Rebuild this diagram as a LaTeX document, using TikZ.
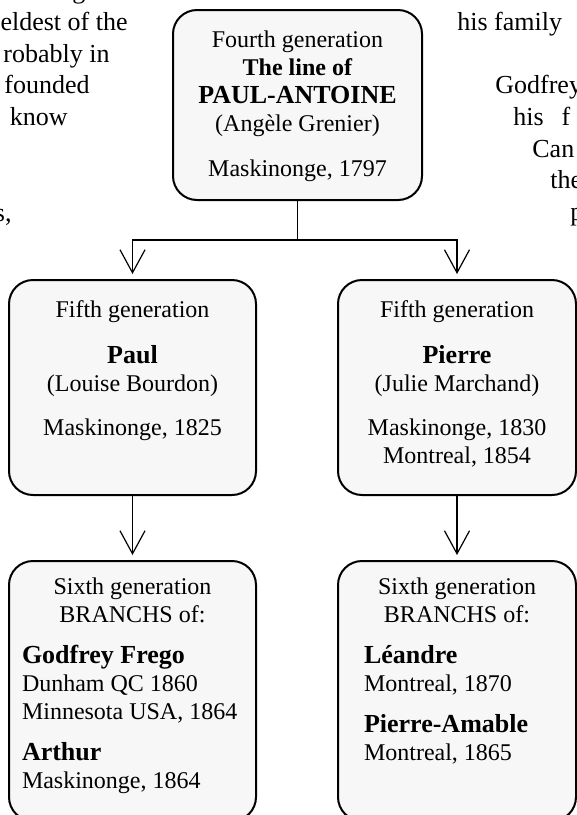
\documentclass[tikz,border=0pt]{standalone}
\usepackage{fontspec}
\setmainfont{Liberation Serif}
\usepackage{xcolor}
\usetikzlibrary{arrows.meta}
\definecolor{boxfill}{RGB}{247,247,247}
\newcommand{\heir}[1]{{\fontsize{13}{14}\selectfont\bfseries #1}}
\newcommand{\genbox}[3]{\begin{minipage}[t][#2][t]{#1}\fontsize{12}{14}\selectfont #3\end{minipage}}
\tikzset{
    gen box/.style={
        draw,
        line width=1pt,
        fill=boxfill,
        rounded corners=12pt,
        inner sep=0pt,
        outer sep=0pt
    },
    page text/.style={
        font=\fontsize{13}{15}\selectfont,
        inner sep=0pt
    },
    link/.style={
        line width=0.7pt,
        -{Straight Barb[length=11.5pt,width=12.5pt,line width=0.6pt]},
        shorten >=3pt
    }
}

\begin{document}
\begin{tikzpicture}[x=0.5pt,y=-0.5pt]
            \useasboundingbox (0,0) rectangle (577,815);
            \clip (0,0) rectangle (577,815);

            % page text round the chart
            \node[page text,anchor=base west] (g0) at (72,-2) {g};
            \node[page text,anchor=base east] (l1) at (128,30) {eldest of the};
            \node[page text,anchor=base east] (l2) at (110,62) {robably in};
            \node[page text,anchor=base east] (l3) at (90,93) {founded};
            \node[page text,anchor=base east] (l4) at (68,125) {know};
            \node[page text,anchor=base east] (l5) at (12,221) {s,};
            \node[page text,anchor=base west] (r1) at (457,30) {his family};
            \node[page text,anchor=base west] (r2) at (495,93) {Godfrey};
            \node[page text,anchor=base west] (r3) at (513,125) {his\hspace{9pt}f};
            \node[page text,anchor=base west] (r4) at (532,157) {Can};
            \node[page text,anchor=base west] (r5) at (550,188) {the};
            \node[page text,anchor=base west] (r6) at (570,220) {p};

            \node[gen box] (A) at (297.5,105) {\genbox{124.5pt}{95pt}{\centering
              \rule{0pt}{18.5pt}Fourth generation\\
              \textbf{The line of}\\
              \heir{PAUL-ANTOINE}\\
              (Angèle Grenier)\\[8.5pt]
              Maskinonge, 1797}};
            \node[gen box] (B) at (132.5,387.5) {\genbox{123.5pt}{107.5pt}{\centering
              \rule{0pt}{18.5pt}Fifth generation\\[9pt]
              \heir{Paul}\\
              (Louise Bourdon)\\[8pt]
              Maskinonge, 1825}};
            \node[gen box] (C) at (457,387.5) {\genbox{119pt}{107.5pt}{\centering
              \rule{0pt}{18.5pt}Fifth generation\\[9pt]
              \heir{Pierre}\\
              (Julie Marchand)\\[8pt]
              Maskinonge, 1830\\
              Montreal, 1854}};
            \node[gen box] (D) at (132.5,691) {\genbox{123.5pt}{130pt}{%
              {\centering\rule{0pt}{16.5pt}Sixth generation\\
              BRANCHS of:\par}
              \vspace{6.5pt}
              {\raggedright\leftskip=6.5pt
              \heir{Godfrey Frego}\\
              Dunham QC 1860\\
              Minnesota USA, 1864\\[6.5pt]
              \heir{Arthur}\\
              Maskinonge, 1864\par}}};
            \node[gen box] (E) at (457,691) {\genbox{119pt}{130pt}{%
              {\centering\rule{0pt}{16.5pt}Sixth generation\\
              BRANCHS of:\par}
              \vspace{6.5pt}
              {\raggedright\leftskip=13pt
              \heir{Léandre}\\
              Montreal, 1870\\[6.5pt]
              \heir{Pierre-Amable}\\
              Montreal, 1865\par}}};

            \draw[line width=0.7pt] (A.south) -- ++(0,40) coordinate (s);
            \foreach \t in {B,C}
              \draw[link] (s) -| (\t.north);
            \foreach \s/\t in {B/D,C/E}
              \draw[link] (\s.south) -- (\t.north);
\end{tikzpicture}
\end{document}
